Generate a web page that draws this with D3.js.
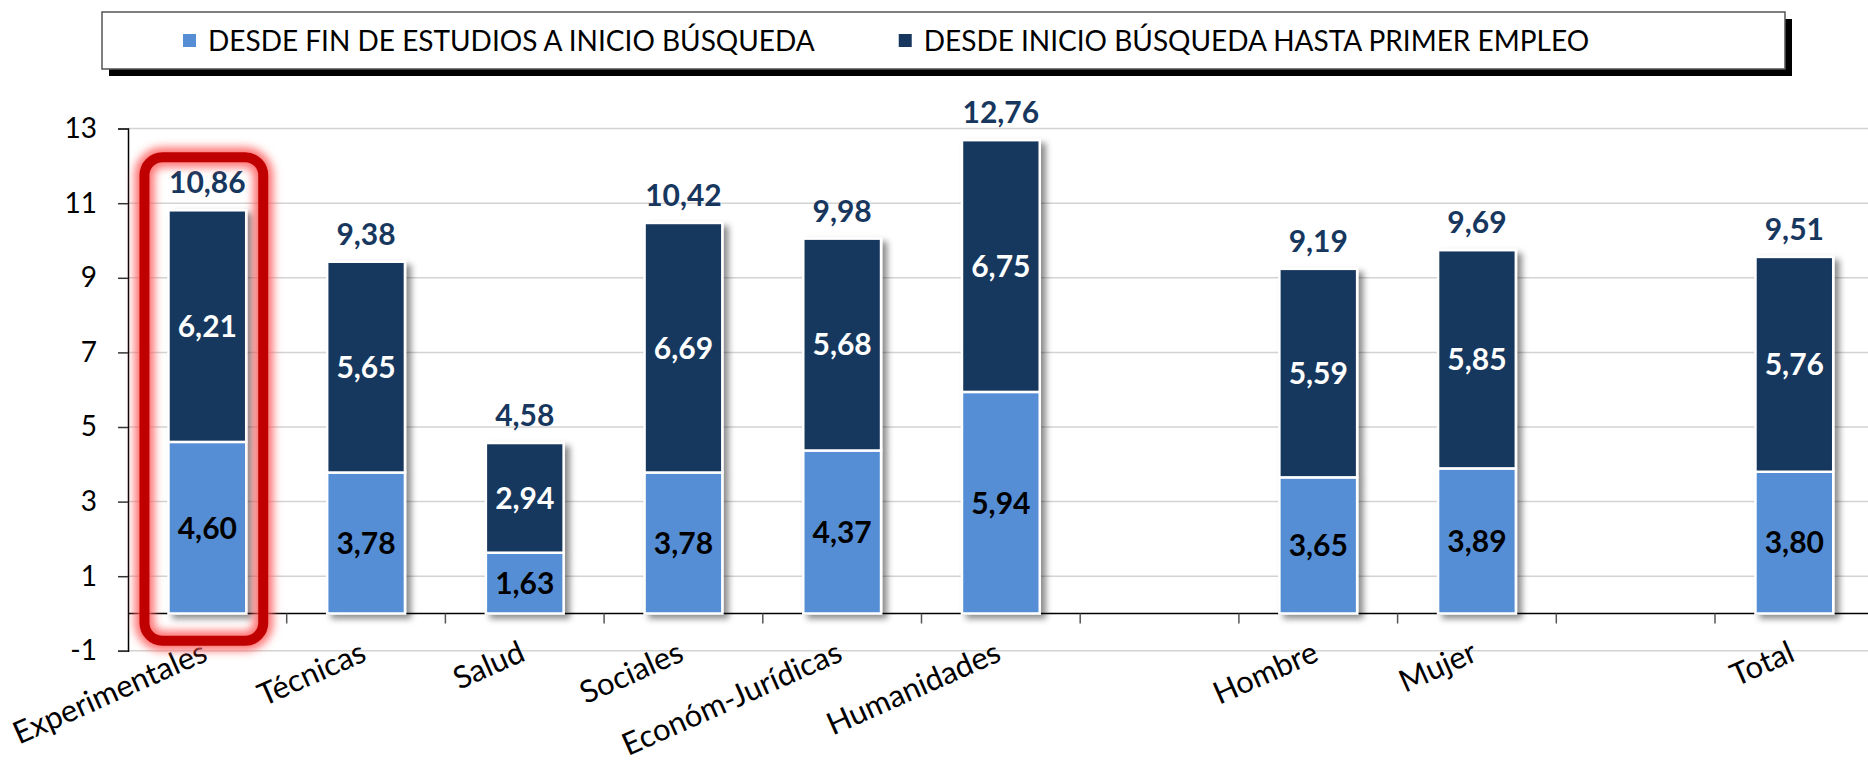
<!DOCTYPE html>
<html>
<head>
<meta charset="utf-8">
<script src="https://cdn.jsdelivr.net/npm/d3@7"></script>
<style>
  html, body { margin: 0; padding: 0; background: #fff; }
  svg { display: block; font-family: Lato, "Open Sans", sans-serif; }
</style>
</head>
<body>
<div id="chart"></div>
<script>
// categories ("" slots are the empty gaps in the axis)
var categories = ['Experimentales', 'Técnicas', 'Salud', 'Sociales', 'Económ-Jurídicas', 'Humanidades', '', 'Hombre', 'Mujer', ' ', 'Total'];
var finToInicio = [4.60, 3.78, 1.63, 3.78, 4.37, 5.94, null, 3.65, 3.89, null, 3.80];
var inicioToEmpleo = [6.21, 5.65, 2.94, 6.69, 5.68, 6.75, null, 5.59, 5.85, null, 5.76];
var totals = [10.86, 9.38, 4.58, 10.42, 9.98, 12.76, null, 9.19, 9.69, null, 9.51];
var yTicks = [-1, 1, 3, 5, 7, 9, 11, 13];
var seriesNames = ['DESDE FIN DE ESTUDIOS A INICIO BÚSQUEDA', 'DESDE INICIO BÚSQUEDA HASTA PRIMER EMPLEO'];
var highlighted = 'Experimentales';

var colors = ['#558ED5', '#17375E'];
var width = 1868, height = 764;

var fmt = d3.formatLocale({decimal: ',', thousands: '.', grouping: [3], currency: ['', '€']}).format('.2f');

var svg = d3.select('#chart').append('svg')
  .attr('width', width)
  .attr('height', height);

var defs = svg.append('defs');

var shadow = defs.append('filter').attr('id', 'barShadow')
  .attr('x', '-20%').attr('y', '-10%').attr('width', '150%').attr('height', '130%');
shadow.append('feDropShadow')
  .attr('dx', 5).attr('dy', 4).attr('stdDeviation', 3)
  .attr('flood-color', '#000').attr('flood-opacity', 0.45);

var glow = defs.append('filter').attr('id', 'glow')
  .attr('x', '-30%').attr('y', '-10%').attr('width', '160%').attr('height', '120%');
glow.append('feGaussianBlur').attr('stdDeviation', 4);

// scales
var x = d3.scaleBand()
  .domain(categories)
  .range([128, 128 + categories.length * 158.7])
  .paddingInner(0.51)
  .paddingOuter(0.255);

var y = d3.scaleLinear()
  .domain([-1, 13])
  .range([650.8, 128.6]);

var rows = categories.map(function(c, i) {
  return {cat: c, a: finToInicio[i], b: inicioToEmpleo[i], total: totals[i]};
}).filter(function(d) { return d.a != null; });

// gridlines
svg.append('g').attr('class', 'grid')
  .selectAll('line')
  .data(yTicks)
  .enter().append('line')
    .attr('x1', x.range()[0]).attr('x2', width)
    .attr('y1', function(d) { return y(d); })
    .attr('y2', function(d) { return y(d); })
    .attr('stroke', '#d3d3d3')
    .attr('stroke-width', 1.5);

// y axis (plain hyphen for the negative tick, like the original)
var yAxis = svg.append('g')
  .attr('transform', 'translate(' + x.range()[0] + ',0)')
  .call(d3.axisLeft(y).tickValues(yTicks).tickSize(10).tickPadding(21)
    .tickFormat(function(d) { return String(d); }));
yAxis.select('.domain').attr('stroke', '#000').attr('stroke-width', 1.5);
yAxis.selectAll('.tick line').attr('stroke', '#333').attr('stroke-width', 1.5);
yAxis.selectAll('.tick text')
  .attr('fill', '#000')
  .style('font-family', 'Lato, sans-serif')
  .style('font-size', '28px');

// x axis line at zero with ticks between slots
var step = x.step();
var xAxis = svg.append('g').attr('class', 'x-axis');
xAxis.append('line')
  .attr('x1', x.range()[0]).attr('x2', width)
  .attr('y1', y(0)).attr('y2', y(0))
  .attr('stroke', '#000').attr('stroke-width', 1.5);
xAxis.selectAll('.tick')
  .data(d3.range(1, categories.length))
  .enter().append('line')
    .attr('class', 'tick')
    .attr('x1', function(k) { return x.range()[0] + k * step; })
    .attr('x2', function(k) { return x.range()[0] + k * step; })
    .attr('y1', y(0)).attr('y2', y(0) + 10)
    .attr('stroke', '#555').attr('stroke-width', 1.5);

xAxis.selectAll('.label')
  .data(categories.filter(function(c) { return c.trim() != ''; }))
  .enter().append('text')
    .attr('class', 'label')
    .attr('text-anchor', 'end')
    .attr('transform', function(c) {
      return 'translate(' + (x(c) + x.bandwidth() / 2 + 2) + ',' + 660 + ') rotate(-24)';
    })
    .style('font-size', '31px')
    .attr('fill', '#000')
    .text(function(c) { return c; });

// bars
var bars = svg.append('g').attr('class', 'bars')
  .selectAll('g')
  .data(rows)
  .enter().append('g')
    .attr('filter', 'url(#barShadow)');

bars.append('rect')
  .attr('x', function(d) { return x(d.cat); })
  .attr('width', x.bandwidth())
  .attr('y', function(d) { return y(d.a); })
  .attr('height', function(d) { return y(0) - y(d.a); })
  .attr('fill', colors[0])
  .attr('stroke', '#fff').attr('stroke-width', 2.5);

bars.append('rect')
  .attr('x', function(d) { return x(d.cat); })
  .attr('width', x.bandwidth())
  .attr('y', function(d) { return y(d.a + d.b); })
  .attr('height', function(d) { return y(d.a) - y(d.a + d.b); })
  .attr('fill', colors[1])
  .attr('stroke', '#fff').attr('stroke-width', 2.5);

// labels
var labels = svg.append('g').attr('class', 'labels')
  .style('font-weight', 700)
  .style('font-size', '30px')
  .attr('text-anchor', 'middle');

labels.selectAll('.lab-a')
  .data(rows).enter().append('text')
    .attr('x', function(d) { return x(d.cat) + x.bandwidth() / 2; })
    .attr('y', function(d) { return y(d.a / 2); })
    .attr('dy', '0.36em')
    .attr('fill', '#000')
    .text(function(d) { return fmt(d.a); });

labels.selectAll('.lab-b')
  .data(rows).enter().append('text')
    .attr('x', function(d) { return x(d.cat) + x.bandwidth() / 2; })
    .attr('y', function(d) { return y(d.a + d.b / 2); })
    .attr('dy', '0.36em')
    .attr('fill', '#fff')
    .text(function(d) { return fmt(d.b); });

labels.selectAll('.lab-total')
  .data(rows).enter().append('text')
    .attr('x', function(d) { return x(d.cat) + x.bandwidth() / 2; })
    .attr('y', function(d) { return y(d.a + d.b) - 17; })
    .attr('fill', colors[1])
    .text(function(d) { return fmt(d.total); });

// red highlight around one category
var hl = rows.filter(function(d) { return d.cat == highlighted; })[0];
var hx0 = x(hl.cat) - 24, hx1 = x(hl.cat) + x.bandwidth() + 17;
var hy0 = y(hl.a + hl.b) - 53, hy1 = y(-1) - 10;
var hlg = svg.append('g').attr('class', 'highlight');
hlg.append('rect')
  .attr('x', hx0).attr('y', hy0)
  .attr('width', hx1 - hx0).attr('height', hy1 - hy0)
  .attr('rx', 18)
  .attr('fill', 'none')
  .attr('stroke', '#ff5c5c').attr('stroke-width', 20).attr('stroke-opacity', 0.85)
  .attr('filter', 'url(#glow)');
hlg.append('rect')
  .attr('x', hx0).attr('y', hy0)
  .attr('width', hx1 - hx0).attr('height', hy1 - hy0)
  .attr('rx', 18)
  .attr('fill', 'none')
  .attr('stroke', '#c00000').attr('stroke-width', 10);

// legend box with hard black shadow
var legend = svg.append('g').attr('class', 'legend');
legend.append('rect')
  .attr('x', 109).attr('y', 19).attr('width', 1683).attr('height', 57)
  .attr('fill', '#000');
legend.append('rect')
  .attr('x', 102).attr('y', 12).attr('width', 1683).attr('height', 57)
  .attr('fill', '#fff').attr('stroke', '#555').attr('stroke-width', 1.5);

var lx = 183;
seriesNames.forEach(function(name, i) {
  legend.append('rect')
    .attr('x', lx).attr('y', 34).attr('width', 13).attr('height', 13)
    .attr('fill', colors[i]);
  var t = legend.append('text')
    .attr('x', lx + 25).attr('y', 41)
    .attr('dy', '0.36em')
    .style('font-size', '28px')
    .attr('fill', '#000')
    .text(name);
  lx = lx + 25 + t.node().getComputedTextLength() + 84;
});
</script>
</body>
</html>
